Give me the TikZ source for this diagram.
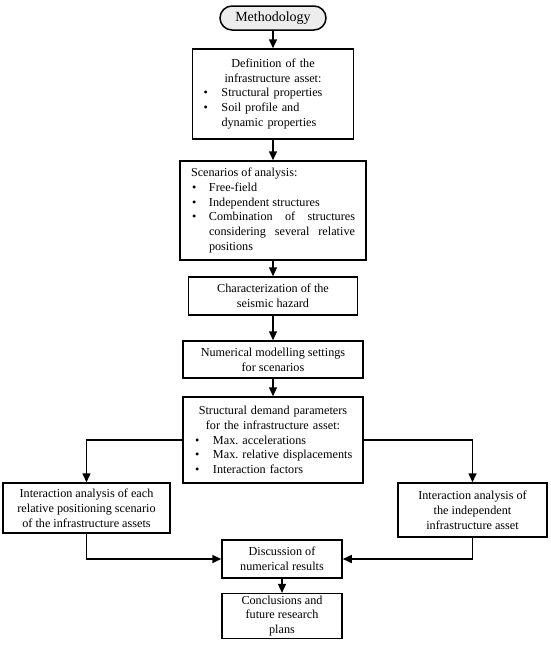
\documentclass[tikz,border=0pt]{standalone}
\usepackage{fontspec}
\setmainfont{Liberation Serif}
\usetikzlibrary{arrows.meta}
\frenchspacing
\newcommand\bitem[3]{\par\noindent\hangindent=#2\hangafter=1\hbox to #2{\hskip#1\textbullet\hfil}\ignorespaces#3}
\tikzset{
 box/.style={draw, line width=1.5pt, rectangle, inner xsep=6pt, inner ysep=2pt, font=\fontsize{12.2}{14.8}\selectfont},
 cbox/.style={box, align=center},
 arr/.style={line width=1.5pt, -{Triangle[length=9pt,width=8pt]}},
}
\begin{document}
\begin{tikzpicture}[x=1pt,y=1pt]
\useasboundingbox (0,0) rectangle (550,-653);
\node[draw, line width=1.5pt, fill=black!7, rounded corners=12pt, minimum width=106pt, minimum height=24pt, inner sep=2pt, font=\fontsize{14}{16}\selectfont] (meth) at (273,-18) {Methodology};
\node[box, minimum width=161pt, minimum height=90pt, text width=149pt] (def) at (273,-94)
 {{\centering Definition of the\\ infrastructure asset:\par}\raggedright
  \bitem{5pt}{23pt}{Structural properties}\bitem{5pt}{23pt}{Soil profile and\newline dynamic properties}\par};
\node[box, inner xsep=11pt, minimum width=186pt, minimum height=99pt] (scen) at (273,-210.5)
 {\begin{minipage}{164pt}\fontsize{12.2}{14.8}\selectfont
  \leftskip=0pt\rightskip=0pt\parfillskip=0pt plus 1fil\relax
  \noindent Scenarios of analysis:\par
  \bitem{1pt}{18pt}{Free-field}\bitem{1pt}{18pt}{Independent structures}\bitem{1pt}{18pt}{Combination of structures\linebreak considering several relative\linebreak positions}\par
  \end{minipage}};
\node[cbox, minimum width=169pt, minimum height=38pt] (char) at (273,-296) {Characterization of the\\ seismic hazard};
\node[cbox, minimum width=180pt, minimum height=37pt] (num) at (273,-359.5) {Numerical modelling settings\\ for scenarios};
\node[box, minimum width=180pt, minimum height=86pt, text width=168pt] (struct) at (273,-440)
 {{\centering Structural demand parameters\\ for the infrastructure asset:\par}\raggedright
  \bitem{6pt}{24pt}{Max. accelerations}\bitem{6pt}{24pt}{Max. relative displacements}\bitem{6pt}{24pt}{Interaction factors}\par};
\node[cbox, minimum width=167pt, minimum height=50pt] (left) at (86.5,-508) {Interaction analysis of each\\ relative positioning scenario\\ of the infrastructure assets};
\node[cbox, minimum width=149pt, minimum height=54pt] (right) at (472.5,-510) {Interaction analysis of\\ the independent\\ infrastructure asset};
\node[cbox, minimum width=120pt, minimum height=38pt] (disc) at (282,-559) {Discussion of\\ numerical results};
\node[cbox, minimum width=120pt, minimum height=44pt] (conc) at (282,-616) {Conclusions and\\ future research\\ plans};
\draw[arr] (meth) -- (def);
\draw[arr] (def) -- (scen);
\draw[arr] (scen) -- (char);
\draw[arr] (char) -- (num);
\draw[arr] (num) -- (struct);
\draw[arr] (struct.west) -| (left.north);
\draw[arr] (struct.east) -| (right.north);
\draw[arr] (left.south) |- (disc.west);
\draw[arr] (right.south) |- (disc.east);
\draw[arr] (disc) -- (conc);
\end{tikzpicture}
\end{document}
